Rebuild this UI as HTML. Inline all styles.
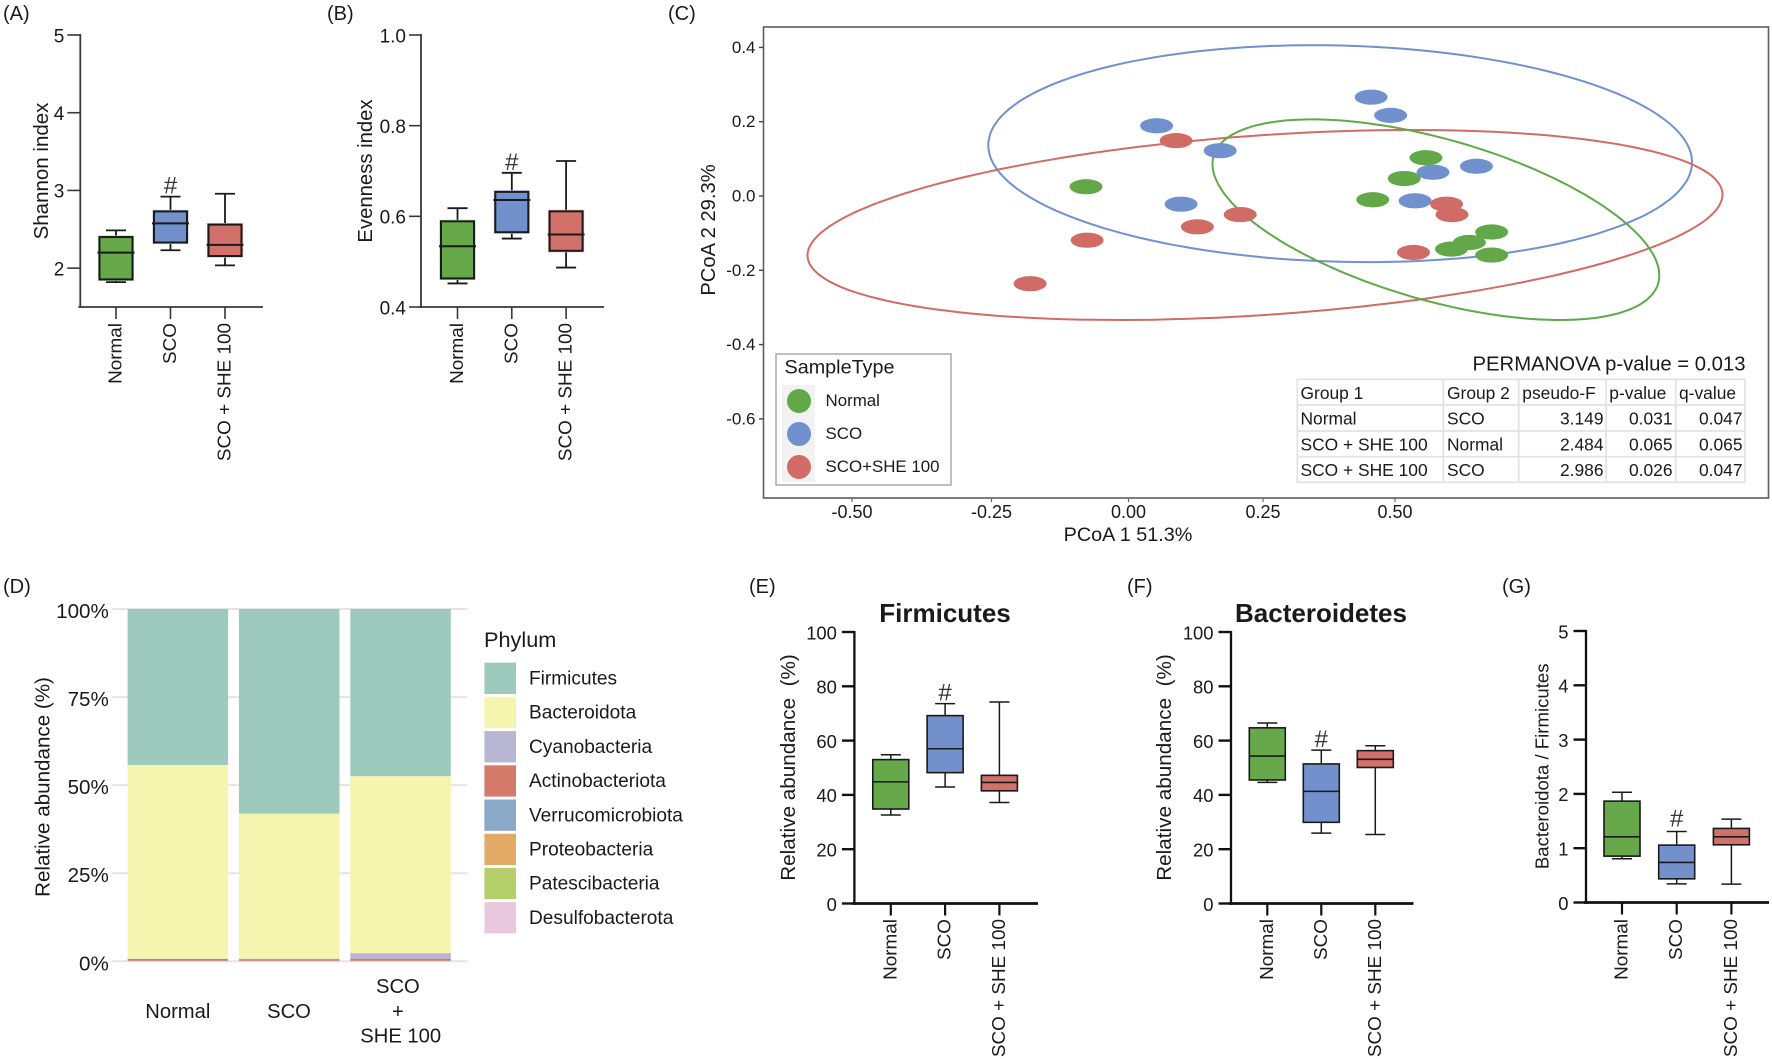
<!DOCTYPE html>
<html lang="en">
<head>
<meta charset="utf-8">
<title>Gut microbiota diversity and composition panels</title>
<style>
html,body{margin:0;padding:0;background:#fff;}
svg{display:block;font-family:"Liberation Sans",Arial,sans-serif;fill:#1a1a1a;filter:blur(0.35px);}
.tbl{font-size:17.4px;}
</style>
</head>
<body>
<svg id="fig" xmlns="http://www.w3.org/2000/svg" width="1772" height="1059" viewBox="0 0 1772 1059">
  <rect x="0" y="0" width="1772" height="1059" fill="#ffffff"/>

  <text x="3" y="20" font-size="20">(A)</text>
  <text x="327" y="20" font-size="20">(B)</text>
  <text x="668" y="20" font-size="20">(C)</text>
  <text x="3" y="593" font-size="20">(D)</text>
  <text x="749" y="593" font-size="20">(E)</text>
  <text x="1127" y="593" font-size="20">(F)</text>
  <text x="1502" y="593" font-size="20">(G)</text>

  <g id="panel-a">
    <text transform="translate(48 171) rotate(-90)" text-anchor="middle" font-size="20.5">Shannon index</text>
  </g>
  <g id="panel-b">
    <text transform="translate(372 171) rotate(-90)" text-anchor="middle" font-size="20.3">Evenness index</text>
  </g>

  <g id="panel-c">
    <rect x="763.5" y="27" width="1005" height="471" fill="#ffffff" stroke="#5e5e5e" stroke-width="1.6"/>
    <text transform="translate(715 230) rotate(-90)" text-anchor="middle" font-size="20.2">PCoA 2 29.3%</text>
    <text x="1128" y="541" text-anchor="middle" font-size="19.8">PCoA 1 51.3%</text>
  </g>

  <g id="pcoa-legend">
    <rect x="776" y="354" width="175" height="131" fill="#ffffff" stroke="#aaaaaa" stroke-width="1.5"/>
    <rect x="782" y="385" width="33" height="97" fill="#f2f2f2"/>
    <text x="784.5" y="373.5" font-size="19.8">SampleType</text>
    <circle cx="799" cy="401" r="12" fill="#62a848"/>
    <text x="825.5" y="406" font-size="16.9">Normal</text>
    <circle cx="799" cy="434" r="12" fill="#7191ce"/>
    <text x="825.5" y="439" font-size="16.9">SCO</text>
    <circle cx="799" cy="467" r="12" fill="#d06c65"/>
    <text x="825.5" y="472" font-size="16.9">SCO+SHE 100</text>
  </g>

  <text x="1745.5" y="370.5" text-anchor="end" font-size="20.3">PERMANOVA p-value = 0.013</text>
  <g class="tbl">
    <g stroke="#e2e2e2" stroke-width="1.7" fill="none">
      <rect x="1297.3" y="379.3" width="447.7" height="103"/>
      <line x1="1297" y1="405" x2="1745" y2="405"/>
      <line x1="1297" y1="431" x2="1745" y2="431"/>
      <line x1="1297" y1="456.7" x2="1745" y2="456.7"/>
      <line x1="1443.3" y1="379" x2="1443.3" y2="482"/>
      <line x1="1518.7" y1="379" x2="1518.7" y2="482"/>
      <line x1="1606" y1="379" x2="1606" y2="482"/>
      <line x1="1675.7" y1="379" x2="1675.7" y2="482"/>
    </g>
    <g>
      <text x="1300.5" y="399">Group 1</text>
      <text x="1447" y="399">Group 2</text>
      <text x="1522.3" y="399">pseudo-F</text>
      <text x="1609.3" y="399">p-value</text>
      <text x="1679" y="399">q-value</text>
    </g>
    <g>
      <text x="1300.5" y="424.7">Normal</text>
      <text x="1447" y="424.7">SCO</text>
      <text x="1603.5" y="424.7" text-anchor="end">3.149</text>
      <text x="1672.5" y="424.7" text-anchor="end">0.031</text>
      <text x="1742.5" y="424.7" text-anchor="end">0.047</text>
    </g>
    <g>
      <text x="1300.5" y="450.5">SCO + SHE 100</text>
      <text x="1447" y="450.5">Normal</text>
      <text x="1603.5" y="450.5" text-anchor="end">2.484</text>
      <text x="1672.5" y="450.5" text-anchor="end">0.065</text>
      <text x="1742.5" y="450.5" text-anchor="end">0.065</text>
    </g>
    <g>
      <text x="1300.5" y="476">SCO + SHE 100</text>
      <text x="1447" y="476">SCO</text>
      <text x="1603.5" y="476" text-anchor="end">2.986</text>
      <text x="1672.5" y="476" text-anchor="end">0.026</text>
      <text x="1742.5" y="476" text-anchor="end">0.047</text>
    </g>
  </g>

  <g id="panel-d">
    <text transform="translate(49.5 787) rotate(-90)" text-anchor="middle" font-size="20.6">Relative abundance (%)</text>
    <text x="484" y="647" font-size="21.7">Phylum</text>
    <text x="177.8" y="1018" text-anchor="middle" font-size="20.2">Normal</text>
    <text x="289" y="1018" text-anchor="middle" font-size="20.2">SCO</text>
    <text text-anchor="middle" font-size="20.2">
      <tspan x="400.7" y="993">SCO</tspan>
      <tspan x="400.7" y="1018">+</tspan>
      <tspan x="400.7" y="1042.5">SHE 100</tspan>
    </text>
  </g>

  <g id="panel-e">
    <text x="945" y="622" text-anchor="middle" font-size="26" font-weight="bold">Firmicutes</text>
    <text transform="translate(795 767.5) rotate(-90)" text-anchor="middle" font-size="20.7">Relative abundance&#160; (%)</text>
  </g>
  <g id="panel-f">
    <text x="1321" y="622" text-anchor="middle" font-size="26" font-weight="bold">Bacteroidetes</text>
    <text transform="translate(1171 767.5) rotate(-90)" text-anchor="middle" font-size="20.7">Relative abundance&#160; (%)</text>
  </g>
  <g id="panel-g">
    <text transform="translate(1548.4 766.3) rotate(-90)" text-anchor="middle" font-size="18.6">Bacteroidota / Firmicutes</text>
  </g>
</svg>

<script>
// ---------- Data: box summaries are [low whisker, Q1, median, Q3, high whisker] ----------
const groups = ['Normal', 'SCO', 'SCO + SHE 100'];

const shannonNormal = [1.82, 1.855, 2.2, 2.4, 2.486];
const shannonSco = [2.23, 2.33, 2.576, 2.73, 2.92];
const shannonShe = [2.036, 2.156, 2.3, 2.56, 2.957];
const shannonTicks = [2, 3, 4, 5];

const evennessNormal = [0.452, 0.463, 0.534, 0.589, 0.618];
const evennessSco = [0.551, 0.565, 0.636, 0.654, 0.696];
const evennessShe = [0.487, 0.524, 0.56, 0.611, 0.722];
const evennessTicks = ['0.4', '0.6', '0.8', '1.0'];

const firmicutesNormal = [32.6, 34.8, 44.8, 53, 54.8];
const firmicutesSco = [42.9, 48.2, 57, 69.2, 73.6];
const firmicutesShe = [37.2, 41.5, 44.6, 47.2, 74.2];

const bacteroidetesNormal = [44.6, 45.5, 54.3, 64.7, 66.5];
const bacteroidetesSco = [25.9, 29.9, 41.3, 51.4, 56.5];
const bacteroidetesShe = [25.4, 50.1, 53.1, 56.3, 58.1];

const percentTicks = [0, 20, 40, 60, 80, 100];

const ratioNormal = [0.805, 0.854, 1.21, 1.867, 2.03];
const ratioSco = [0.344, 0.436, 0.737, 1.057, 1.308];
const ratioShe = [0.338, 1.063, 1.21, 1.364, 1.536];
const ratioTicks = [0, 1, 2, 3, 4, 5];

// PCoA scatter
const pcoaNormalX = [0.557, 0.517, -0.069, 0.459, 0.678, 0.637, 0.604, 0.678];
const pcoaNormalY = [0.103, 0.047, 0.025, -0.010, -0.097, -0.125, -0.143, -0.159];
const pcoaScoX = [0.456, 0.492, 0.061, 0.178, 0.650, 0.570, 0.106, 0.537];
const pcoaScoY = [0.266, 0.217, 0.189, 0.122, 0.080, 0.064, -0.022, -0.013];
const pcoaSheX = [0.097, -0.067, -0.172, 0.136, 0.215, 0.595, 0.605, 0.534];
const pcoaSheY = [0.149, -0.119, -0.236, -0.083, -0.050, -0.022, -0.050, -0.152];
const pcoaXTicks = ['-0.50', '-0.25', '0.00', '0.25', '0.50'];
const pcoaYTicks = ['0.4', '0.2', '0.0', '-0.2', '-0.4', '-0.6'];
// Confidence ellipses: [centre x, centre y, half-range x, half-range y, correlation]
const ellipseNormal = [0.5753, -0.0638, 0.4114, 0.27, -0.555];
const ellipseSco = [0.399, 0.114, 0.648, 0.292, -0.078];
const ellipseShe = [0.2606, -0.078, 0.8425, 0.2557, 0.32];

// Stacked bars, percent by group
const barGroups = ['Normal', 'SCO', 'SCO + SHE 100'];
const phyla = ['Firmicutes', 'Bacteroidota', 'Cyanobacteria', 'Actinobacteriota', 'Verrucomicrobiota', 'Proteobacteria', 'Patescibacteria', 'Desulfobacterota'];
const firmicutesShare = [44.3, 58.1, 47.5];
const bacteroidotaShare = [55.0, 41.2, 50.2];
const cyanobacteriaShare = [0.05, 0.1, 1.6];
const actinobacteriotaShare = [0.5, 0.45, 0.55];
const verrucomicrobiotaShare = [0.05, 0.05, 0.05];
const proteobacteriaShare = [0.04, 0.04, 0.04];
const patescibacteriaShare = [0.03, 0.03, 0.03];
const desulfobacterotaShare = [0.03, 0.03, 0.03];
const shareTicks = ['0%', '25%', '50%', '75%', '100%'];

// ---------- Styling ----------
const phylumColors = ['#9ecabd', '#f5f5b0', '#b9b6d4', '#d47a6b', '#8aa8c7', '#e2ab65', '#b5cf6b', '#e8c8dd'];
const groupFill = ['#66a84a', '#7291cc', '#d2706a'];
const groupHalo = ['#b4d6a6', '#bccbe8', '#e8b6b2'];
const SVGNS = 'http://www.w3.org/2000/svg';

function make(parent, tag, attrs, text) {
  const e = document.createElementNS(SVGNS, tag);
  for (const k in attrs) e.setAttribute(k, attrs[k]);
  if (text !== undefined) e.textContent = text;
  parent.appendChild(e);
  return e;
}
function linear(d0, d1, r0, r1) {
  return v => r0 + (v - d0) * (r1 - r0) / (d1 - d0);
}

// ---------- Box plot panels ----------
function drawBoxPanel(cfg) {
  const g = document.getElementById(cfg.id);
  const y = linear(cfg.d0, cfg.d1, cfg.r0, cfg.r1);
  const xCat = i => cfg.cat0 + i * cfg.catStep;

  const yAxis = make(g, 'line', {x1: cfg.axisX, y1: y(cfg.dTop) - 1, x2: cfg.axisX, y2: cfg.axisY + cfg.xw / 2, stroke: cfg.axisColor, 'stroke-width': cfg.yw});
  
  

  const xAxis = make(g, 'line', {x1: cfg.axisX - 2, y1: cfg.axisY, x2: cfg.axisEnd, y2: cfg.axisY, stroke: cfg.axisColor, 'stroke-width': cfg.xw});
  
  

  cfg.ticks.forEach(t => {
    const py = y(Number(t));
    const tk = make(g, 'line', {x1: cfg.axisX - cfg.tickLen, y1: py, x2: cfg.axisX, y2: py, stroke: cfg.axisColor, 'stroke-width': cfg.yTickW});
    
    
    const lb = make(g, 'text', {x: cfg.axisX - cfg.tickLen - cfg.tickGap, y: py + 7.3, 'text-anchor': 'end', 'font-size': cfg.tickFont}, String(t));
    
    
  });

  groups.forEach((name, i) => {
    const cx = xCat(i);
    const s = cfg.series[i];
    const hw = cfg.boxW / 2;
    const lw = cfg.lineW;

    const tk = make(g, 'line', {x1: cx, y1: cfg.axisY, x2: cx, y2: cfg.axisY + 12, stroke: cfg.axisColor, 'stroke-width': cfg.xTickW});
    
    

    const lb = make(g, 'text', {transform: 'translate(' + (cx + 5.5) + ' ' + cfg.labelTop + ') rotate(-90)', 'text-anchor': 'end', 'font-size': 18.9}, name);
    
    

    const whisker = make(g, 'line', {x1: cx, y1: y(s[0]), x2: cx, y2: y(s[4]), stroke: '#1a1a1a', 'stroke-width': cfg.whiskerW});
    
    

    const capLow = make(g, 'line', {x1: cx - 10, y1: y(s[0]), x2: cx + 10, y2: y(s[0]), stroke: '#1a1a1a', 'stroke-width': cfg.whiskerW});
    
    

    const capHigh = make(g, 'line', {x1: cx - 10, y1: y(s[4]), x2: cx + 10, y2: y(s[4]), stroke: '#1a1a1a', 'stroke-width': cfg.whiskerW});
    
    

    const halo = make(g, 'rect', {x: cx - hw - cfg.haloW, y: y(s[3]) - cfg.haloW, width: cfg.boxW + 2 * cfg.haloW, height: y(s[1]) - y(s[3]) + 2 * cfg.haloW, fill: groupHalo[i]});
    
    

    const box = make(g, 'rect', {x: cx - hw, y: y(s[3]), width: cfg.boxW, height: y(s[1]) - y(s[3]), fill: groupFill[i], stroke: '#1a1a1a', 'stroke-width': lw});
    
    

    const med = make(g, 'line', {x1: cx - hw - cfg.medOver, y1: y(s[2]), x2: cx + hw + cfg.medOver, y2: y(s[2]), stroke: '#1a1a1a', 'stroke-width': lw});
    
    
  });

  const sig = make(g, 'text', {x: xCat(1), y: cfg.hashY, 'text-anchor': 'middle', 'font-size': 24, fill: '#333'}, '#');
  
  
}

const thinStyle = {axisColor: '#383838', xw: 1.7, yw: 1.8, yTickW: 1.6, xTickW: 1.6, tickFont: 19, tickGap: 3, boxW: 33, lineW: 2, whiskerW: 1.8, medOver: 2, haloW: 1.6, labelTop: 323};
const thickStyle = {axisColor: '#111111', xw: 2.7, yw: 2.3, yTickW: 2.4, xTickW: 2.2, tickFont: 18.4, tickGap: 5, boxW: 36, lineW: 1.6, whiskerW: 1.5, medOver: 0, haloW: 0.6, labelTop: 919};

drawBoxPanel(Object.assign({}, thinStyle, {id: 'panel-a', series: [shannonNormal, shannonSco, shannonShe], ticks: shannonTicks, d0: 1.5, d1: 5, r0: 307, r1: 35, dTop: 5, axisX: 80.3, axisY: 307, axisEnd: 263, tickLen: 13, cat0: 116, catStep: 54.5, hashY: 193.5}));
drawBoxPanel(Object.assign({}, thinStyle, {id: 'panel-b', series: [evennessNormal, evennessSco, evennessShe], ticks: evennessTicks, d0: 0.4, d1: 1.0, r0: 307, r1: 35, dTop: 1.0, axisX: 421, axisY: 307, axisEnd: 604, tickLen: 12, cat0: 457.5, catStep: 54.3, hashY: 170}));
drawBoxPanel(Object.assign({}, thickStyle, {id: 'panel-e', series: [firmicutesNormal, firmicutesSco, firmicutesShe], ticks: percentTicks, d0: 0, d1: 100, r0: 903.5, r1: 632, dTop: 100, axisX: 854.4, axisY: 903.5, axisEnd: 1038, tickLen: 12.5, cat0: 890.8, catStep: 54.3, hashY: 700.7}));
drawBoxPanel(Object.assign({}, thickStyle, {id: 'panel-f', series: [bacteroidetesNormal, bacteroidetesSco, bacteroidetesShe], ticks: percentTicks, d0: 0, d1: 100, r0: 903.5, r1: 632, dTop: 100, axisX: 1231, axisY: 903.5, axisEnd: 1413.5, tickLen: 12.5, cat0: 1267.3, catStep: 54, hashY: 747}));
drawBoxPanel(Object.assign({}, thickStyle, {id: 'panel-g', series: [ratioNormal, ratioSco, ratioShe], ticks: ratioTicks, d0: 0, d1: 5, r0: 902.5, r1: 631, dTop: 5, axisX: 1586, axisY: 902.5, axisEnd: 1769, tickLen: 12.5, cat0: 1622, catStep: 54.7, hashY: 826.7}));

// ---------- PCoA panel ----------
(function () {
  const g = document.getElementById('panel-c');
  const px = linear(-0.5, 0.5, 852, 1395);
  const py = linear(0, 0.4, 196, 47.4);
  // The source axis labels sit slightly off a uniform spacing toward the middle.
  const tickX = v => px(v) + 5 * (1 - 4 * v * v);

  pcoaYTicks.forEach(t => {
    const yy = py(Number(t));
    const tk = make(g, 'line', {x1: 759, y1: yy, x2: 763.5, y2: yy, stroke: '#444', 'stroke-width': 1.4});
    
    
    const lb = make(g, 'text', {x: 755.5, y: yy + 5.5, 'text-anchor': 'end', 'font-size': 17}, t);
    
    
  });

  pcoaXTicks.forEach(t => {
    const xx = tickX(Number(t));
    const tk = make(g, 'line', {x1: xx, y1: 498, x2: xx, y2: 502, stroke: '#666', 'stroke-width': 1.2});
    
    
    const lb = make(g, 'text', {x: xx, y: 518, 'text-anchor': 'middle', 'font-size': 18}, t);
    
    
  });

  const ellipsePath = p => {
    const [cx, cy, hx, hy, rho] = p;
    const root = Math.sqrt(1 - rho * rho);
    let d = '';
    for (let k = 0; k <= 180; k++) {
      const a = k / 180 * 2 * Math.PI;
      const ex = cx + hx * Math.cos(a);
      const ey = cy + hy * (rho * Math.cos(a) + root * Math.sin(a));
      d += (k ? 'L' : 'M') + px(ex).toFixed(1) + ' ' + py(ey).toFixed(1);
    }
    return d + 'Z';
  };

  const ell1 = make(g, 'path', {d: ellipsePath(ellipseSco), fill: 'none', stroke: '#7191ce', 'stroke-width': 2});
  
  

  const ell2 = make(g, 'path', {d: ellipsePath(ellipseShe), fill: 'none', stroke: '#d06c65', 'stroke-width': 2});
  
  

  const ell3 = make(g, 'path', {d: ellipsePath(ellipseNormal), fill: 'none', stroke: '#62a848', 'stroke-width': 2});
  
  

  pcoaScoX.forEach((v, i) => {
    const m = make(g, 'ellipse', {cx: px(v), cy: py(pcoaScoY[i]), rx: 16.5, ry: 7.6, fill: '#7191ce'});
    
    
  });
  pcoaSheX.forEach((v, i) => {
    const m = make(g, 'ellipse', {cx: px(v), cy: py(pcoaSheY[i]), rx: 16.5, ry: 7.6, fill: '#d06c65'});
    
    
  });
  pcoaNormalX.forEach((v, i) => {
    const m = make(g, 'ellipse', {cx: px(v), cy: py(pcoaNormalY[i]), rx: 16.5, ry: 7.6, fill: '#62a848'});
    
    
  });
})();

// ---------- Stacked bar panel ----------
(function () {
  const g = document.getElementById('panel-d');
  const y = linear(0, 100, 961.3, 609);
  const barX = i => 127.6 + i * 111.35;
  const barW = 100.5;
  const shares = [firmicutesShare, bacteroidotaShare, cyanobacteriaShare, actinobacteriotaShare, verrucomicrobiotaShare, proteobacteriaShare, patescibacteriaShare, desulfobacterotaShare];

  shareTicks.forEach(t => {
    const yy = y(parseFloat(t));
    const gl = make(g, 'line', {x1: 112.5, y1: yy, x2: 467.5, y2: yy, stroke: '#e4e4e4', 'stroke-width': 2});
    
    
    const lb = make(g, 'text', {x: 108.8, y: yy + 9, 'text-anchor': 'end', 'font-size': 20.6}, t);
    
    
  });

  barGroups.forEach((name, i) => {
    let top = 100;
    phyla.forEach((p, k) => {
      const v = shares[k][i];
      const seg = make(g, 'rect', {x: barX(i), y: y(top), width: barW, height: y(top - v) - y(top), fill: phylumColors[k]});
      
      
      top -= v;
    });
  });

  phyla.forEach((p, k) => {
    const sw = make(g, 'rect', {x: 484.4, y: 662.7 + k * 34.2, width: 31.6, height: 31.3, fill: phylumColors[k]});
    
    
    const lb = make(g, 'text', {x: 529, y: 684.5 + k * 34.2, 'font-size': 19.1}, p);
    
    
  });
})();
</script>
</body>
</html>
